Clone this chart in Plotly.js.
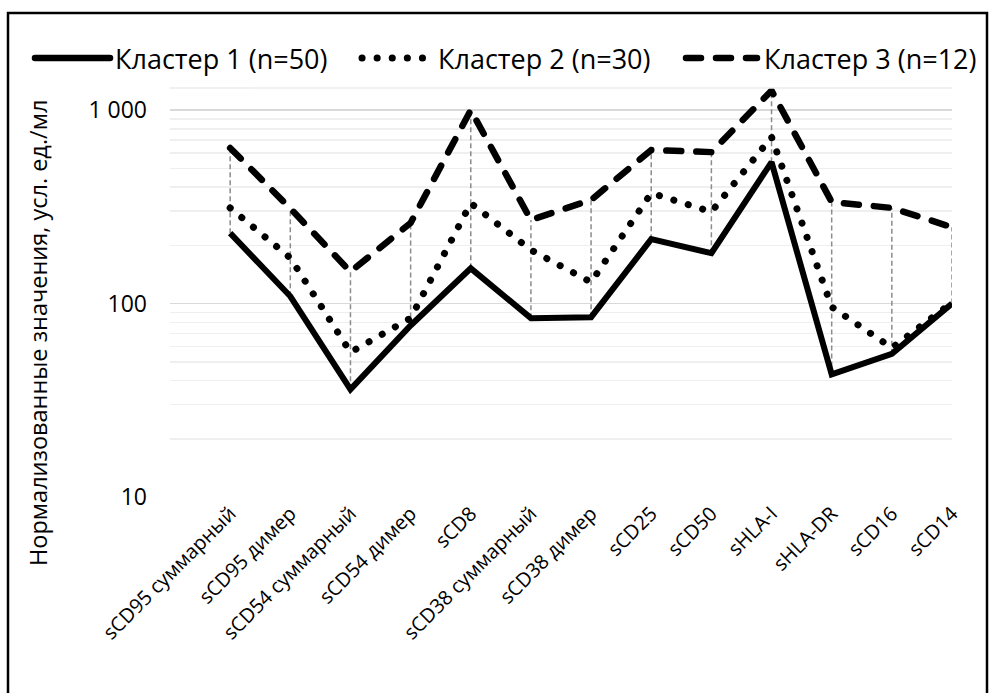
<!DOCTYPE html>
<html>
<head>
<meta charset="utf-8">
<script src="https://cdn.plot.ly/plotly-3.0.1.min.js"></script>
<style>
  html, body { margin: 0; padding: 0; background: #fff; }
  #chart { width: 990px; height: 693px; }
  .round-cap .js-line { stroke-linecap: round; }
  .shapelayer path { stroke-linecap: round; }
</style>
</head>
<body>
<div id="chart"></div>
<script>
// ---- data ----
const categories = ["sCD95 суммарный", "sCD95 димер", "sCD54 суммарный", "sCD54 димер", "sCD8",
  "sCD38 суммарный", "sCD38 димер", "sCD25", "sCD50", "sHLA-I", "sHLA-DR", "sCD16", "sCD14"];
const seriesNames = ["Кластер 1 (n=50)", "Кластер 2 (n=30)", "Кластер 3 (n=12)"];
const cluster1 = [231, 109, 36, 77, 152, 84, 85, 215, 182, 538, 43, 55, 100];
const cluster2 = [312, 172, 56, 84, 330, 189, 129, 372, 298, 725, 96, 59, 101];
const cluster3 = [637, 310, 146, 261, 1000, 270, 343, 621, 606, 1260, 335, 312, 248];
const yTickVals = [10, 100, 1000];
const yTickText = ["10", "100", "1 000"];
const yMinorVals = [20, 30, 40, 50, 60, 70, 80, 90, 200, 300, 400, 500, 600, 700, 800, 900];
const yAxisTitle = "Нормализованные значения, усл. ед./мл";

// ---- layout helpers (pixel -> paper) ----
const L = 170, R = 952, T = 88, B = 497;
const px = v => (v - L) / (R - L);
const py = v => (B - v) / (B - T);

// high-low (drop) lines between min and max of the clusters
const hlX = [], hlY = [];
categories.forEach((c, i) => {
  const vals = [cluster1[i], cluster2[i], cluster3[i]];
  hlX.push(c, c, null);
  hlY.push(Math.min(...vals), Math.max(...vals), null);
});

const FONT = "Open Sans";

const traces = [
  { x: hlX, y: hlY, mode: "lines", type: "scatter", hoverinfo: "skip", showlegend: false,
    line: { color: "#8c8c8c", width: 1.5, dash: "5px,3px" } },
  { x: categories, y: cluster1, name: seriesNames[0], mode: "lines", type: "scatter",
    line: { color: "#000", width: 6 } },
  { x: categories, y: cluster2, name: seriesNames[1], mode: "lines", type: "scatter",
    line: { color: "#000", width: 7, dash: "0.1px,15px" } },
  { x: categories, y: cluster3, name: seriesNames[2], mode: "lines", type: "scatter",
    line: { color: "#000", width: 6.5, dash: "15px,15px" } }
];

// custom legend (wide samples like the original)
const legendY = py(58);
const legendItems = [
  { x0: 35, x1: 110, tx: 113, dash: "solid" },
  { x0: 362, x1: 432, tx: 436, dash: "0.1px,15px" },
  { x0: 686, x1: 757, tx: 762, dash: "15px,15px" }
];

const shapes = [
  // outer frame
  { type: "rect", xref: "paper", yref: "paper", x0: px(8), x1: px(987), y0: py(13), y1: py(720),
    line: { color: "#000", width: 2.5 }, fillcolor: "rgba(0,0,0,0)" },
  // top edge of plot area
  { type: "line", xref: "paper", yref: "paper", x0: 0, x1: 1, y0: 1, y1: 1,
    line: { color: "#ececec", width: 1.5 } }
];
const annotations = [
  { xref: "paper", yref: "paper", x: px(38), y: py(333), xanchor: "center", yanchor: "middle",
    textangle: -90, showarrow: false, text: yAxisTitle,
    font: { family: FONT, size: 23.5, color: "#000" } }
];
legendItems.forEach((it, i) => {
  shapes.push({ type: "line", xref: "paper", yref: "paper", x0: px(it.x0), x1: px(it.x1),
    y0: legendY, y1: legendY, line: { color: "#000", width: i === 1 ? 7 : 6.5, dash: it.dash } });
  annotations.push({ xref: "paper", yref: "paper", x: px(it.tx), y: legendY, xanchor: "left",
    yanchor: "middle", showarrow: false, text: seriesNames[i],
    font: { family: FONT, size: 27, color: "#000" } });
});

const layout = {
  width: 990, height: 693,
  margin: { l: L, r: 990 - R, t: T, b: 693 - B },
  paper_bgcolor: "#fff", plot_bgcolor: "#fff",
  showlegend: false,
  font: { family: FONT, color: "#000" },
  xaxis: {
    type: "category", categoryorder: "array", categoryarray: categories,
    range: [-1, 12], tickangle: -45, showgrid: false, zeroline: false,
    showline: false, ticks: "", tickfont: { family: FONT, size: 20, color: "#000" }
  },
  yaxis: {
    type: "log", range: [1, Math.log10(1300)],
    tickmode: "array", tickvals: yTickVals, ticktext: yTickText,
    tickfont: { family: FONT, size: 23, color: "#000" },
    ticklabelstandoff: 22,
    showgrid: true, gridcolor: "#d9d9d9", gridwidth: 1.5,
    zeroline: false, showline: false, ticks: "",
    minor: { tickmode: "array", tickvals: yMinorVals, showgrid: true, gridcolor: "#efefef", gridwidth: 1.5, ticks: "" }
  },
  shapes: shapes,
  annotations: annotations
};

Plotly.newPlot("chart", traces, layout, { staticPlot: true, displayModeBar: false }).then(() => {
  const tr = document.querySelectorAll(".scatterlayer .trace");
  tr.forEach((t, i) => { if (i >= 2) t.classList.add("round-cap"); });
});
</script>
</body>
</html>
